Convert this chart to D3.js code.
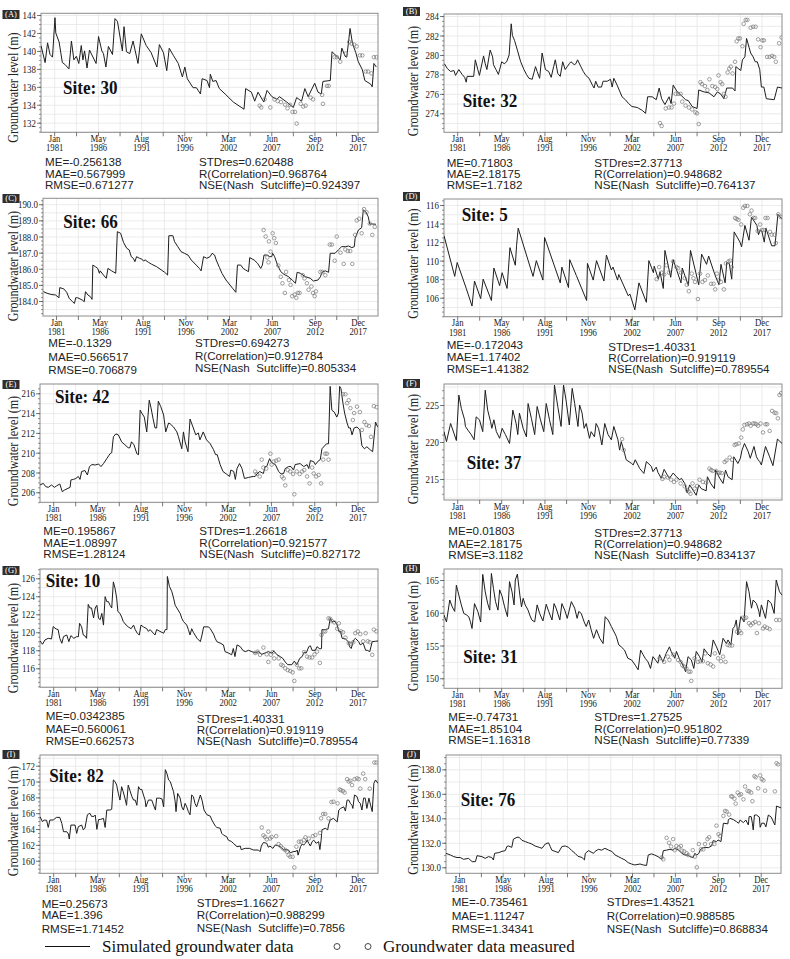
<!DOCTYPE html>
<html><head><meta charset="utf-8">
<script src="https://cdn.jsdelivr.net/npm/d3@7"></script>
<style>body{margin:0;background:#fff}</style>
</head><body><svg id="c" width="790" height="959"></svg>
<script>
// ---------- DATA ----------
const tickMonths = ["Jan","May","Aug","Nov","Mar","Jun","Sep","Dec"];
const tickYears  = [1981,1986,1991,1996,2002,2007,2012,2017];
const monthNames = ["Jan","Feb","Mar","Apr","May","Jun","Jul","Aug","Sep","Oct","Nov","Dec"];
const panelTags = ["A","B","C","D","E","F","G","H","I","J"];
const siteIds = ["30","32","66","5","42","37","10","31","82","76"];
const legendLabels = ["Simulated groundwater data","Groundwater data measured"];

const yTicksA=[132,134,136,138,140,142,144], yTicksB=[274,276,278,280,282,284], yTicksC=[184,185,186,187,188,189,190],
      yTicksD=[106,108,110,112,114,116], yTicksE=[206,208,210,212,214,216], yTicksF=[215,220,225],
      yTicksG=[116,118,120,122,124,126], yTicksH=[150,155,160,165], yTicksI=[160,162,164,166,168,170,172],
      yTicksJ=[130,132,134,136,138];

const statsA=["ME=-0.256138","MAE=0.567999","RMSE=0.671277","STDres=0.620488","R(Correlation)=0.968764","NSE(Nash  Sutcliffe)=0.924397"];
const statsB=["ME=0.71803","MAE=2.18175","RMSE=1.7182","STDres=2.37713","R(Correlation)=0.948682","NSE(Nash  Sutcliffe)=0.764137"];
const statsC=["ME=-0.1329","MAE=0.566517","RMSE=0.706879","STDres=0.694273","R(Correlation)=0.912784","NSE(Nash  Sutcliffe)=0.805334"];
const statsD=["ME=-0.172043","MAE=1.17402","RMSE=1.41382","STDres=1.40331","R(Correlation)=0.919119","NSE(Nash  Sutcliffe)=0.789554"];
const statsE=["ME=0.195867","MAE=1.08997","RMSE=1.28124","STDres=1.26618","R(Correlation)=0.921577","NSE(Nash  Sutcliffe)=0.827172"];
const statsF=["ME=0.01803","MAE=2.18175","RMSE=3.1182","STDres=2.37713","R(Correlation)=0.948682","NSE(Nash  Sutcliffe)=0.834137"];
const statsG=["ME=0.0342385","MAE=0.560061","RMSE=0.662573","STDres=1.40331","R(Correlation)=0.919119","NSE(Nash  Sutcliffe)=0.789554"];
const statsH=["ME=-0.74731","MAE=1.85104","RMSE=1.16318","STDres=1.27525","R(Correlation)=0.951802","NSE(Nash  Sutcliffe)=0.77339"];
const statsI=["ME=0.25673","MAE=1.396","RMSE=1.71452","STDres=1.16627","R(Correlation)=0.988299","NSE(Nash  Sutcliffe)=0.7856"];
const statsJ=["ME=-0.735461","MAE=1.11247","RMSE=1.34341","STDres=1.43521","R(Correlation)=0.988585","NSE(Nash  Sutcliffe)=0.868834"];

const simA=[[1979.4,140.6],[1979.9,138.7],[1980.2,140.9],[1980.5,139.6],[1980.8,139.3],[1981.1,143.7],[1981.2,142.0],[1981.6,141.0],[1982.0,138.7],[1982.3,138.5],[1982.8,138.0],[1983.1,141.1],[1983.4,139.0],[1983.7,139.4],[1984.0,138.6],[1984.3,140.6],[1984.5,139.0],[1984.7,140.0],[1985.0,138.1],[1985.3,140.1],[1986.1,138.6],[1986.4,141.6],[1986.8,140.0],[1987.0,139.7],[1987.3,138.2],[1987.6,140.5],[1988.1,139.6],[1988.4,143.6],[1988.7,143.3],[1989.3,140.0],[1989.5,142.7],[1989.8,139.9],[1990.2,139.7],[1990.6,141.1],[1991.2,138.6],[1991.6,141.9],[1992.2,140.6],[1992.8,139.8],[1993.5,138.2],[1993.8,140.7],[1994.3,139.8],[1994.7,137.8],[1995.0,140.3],[1995.5,139.5],[1996.1,138.6],[1996.6,137.1],[1996.9,138.2],[1997.2,136.9],[1997.9,135.9],[1998.3,135.9],[1998.8,135.2],[1999.0,136.9],[1999.6,136.7],[1999.9,135.9],[2000.0,137.4],[2000.3,136.6],[2000.7,136.7],[2001.1,135.8],[2001.8,135.2],[2002.8,134.3],[2004.1,133.5],[2004.3,135.8],[2005.0,135.4],[2005.4,134.4],[2005.8,135.4],[2006.5,134.3],[2006.9,135.6],[2007.5,134.9],[2008.1,134.6],[2008.4,134.9],[2009.3,134.3],[2010.1,133.7],[2010.5,134.8],[2011.1,134.4],[2011.5,135.8],[2011.9,134.9],[2012.7,136.4],[2013.1,135.4],[2013.5,135.2],[2013.7,136.6],[2014.6,136.7],[2014.8,139.9],[2015.4,139.4],[2015.8,139.0],[2016.0,140.3],[2016.4,139.4],[2016.6,139.3],[2017.0,142.5],[2017.3,140.8],[2017.7,139.8],[2018.0,138.8],[2018.5,137.9],[2018.8,136.7],[2019.5,136.3],[2019.7,136.0],[2019.9,138.6],[2020.2,138.2]];
const obsA=[[2006.0,133.9],[2006.2,133.7],[2006.6,134.6],[2007.3,133.7],[2007.8,134.6],[2008.2,134.4],[2008.6,134.3],[2009.1,134.0],[2009.4,133.6],[2009.7,134.0],[2010.0,133.2],[2010.3,133.2],[2010.5,131.9],[2011.0,134.1],[2011.3,133.8],[2011.6,133.9],[2012.2,134.8],[2012.5,134.6],[2013.6,135.1],[2013.7,134.1],[2014.2,136.1],[2014.4,136.1],[2015.1,139.3],[2015.4,139.3],[2015.8,138.8],[2016.5,139.7],[2016.9,141.0],[2017.2,140.8],[2017.5,140.7],[2017.8,140.5],[2018.2,139.5],[2018.5,139.5],[2018.9,137.7],[2019.2,137.7],[2019.6,137.5],[2019.9,139.3],[2020.2,139.3]];

const simB=[[1979.45,279.1],[1979.8,278.6],[1980.2,278.3],[1980.6,278.4],[1980.8,277.9],[1981.2,278.5],[1981.6,278.0],[1981.9,277.7],[1982.1,277.2],[1982.2,277.8],[1983.0,277.8],[1983.2,279.5],[1983.5,278.5],[1983.7,277.9],[1984.2,279.9],[1984.4,279.1],[1984.6,278.5],[1985.0,280.5],[1985.3,279.8],[1985.4,279.0],[1985.7,278.5],[1986.0,278.0],[1986.4,279.3],[1986.7,279.1],[1987.0,279.3],[1987.3,280.0],[1987.55,283.2],[1987.7,282.0],[1987.95,281.5],[1988.3,280.5],[1988.7,279.3],[1989.1,278.5],[1989.4,278.0],[1989.7,277.6],[1990.1,277.5],[1990.5,278.8],[1990.7,278.3],[1991.0,277.6],[1991.3,280.2],[1991.7,278.5],[1992.1,278.3],[1992.4,277.7],[1992.7,278.8],[1992.9,279.5],[1993.2,278.1],[1993.5,277.8],[1993.8,279.3],[1994.1,278.5],[1994.35,278.8],[1994.6,279.1],[1994.8,279.3],[1995.2,279.0],[1995.4,279.1],[1995.6,279.5],[1996.0,278.8],[1996.3,278.3],[1996.6,277.9],[1997.0,277.6],[1997.4,276.9],[1997.6,276.6],[1997.8,277.3],[1998.1,276.7],[1998.5,276.7],[1998.7,277.3],[1999.2,277.3],[1999.6,277.5],[1999.8,276.7],[2000.0,277.6],[2000.4,276.9],[2000.75,276.2],[2001.0,275.7],[2001.4,275.4],[2001.8,275.0],[2002.2,274.7],[2002.85,274.6],[2003.45,274.3],[2003.85,274.0],[2004.1,275.7],[2004.65,275.7],[2005.15,275.4],[2005.5,276.6],[2005.8,275.5],[2006.2,274.9],[2006.7,275.7],[2006.95,275.0],[2007.2,276.9],[2007.7,276.2],[2008.1,275.9],[2008.7,275.4],[2009.05,275.3],[2009.5,274.7],[2010.1,274.5],[2010.3,276.4],[2010.95,276.2],[2011.55,276.1],[2012.15,275.7],[2012.55,276.2],[2012.95,276.0],[2013.35,275.5],[2013.7,276.6],[2014.4,276.6],[2014.7,276.3],[2014.8,278.8],[2015.4,278.4],[2015.6,279.5],[2015.9,279.8],[2016.1,281.7],[2016.4,280.8],[2016.6,280.2],[2016.9,279.8],[2017.15,279.3],[2017.4,279.3],[2017.7,278.5],[2017.9,276.7],[2018.2,276.7],[2018.5,275.5],[2019.45,275.4],[2019.85,276.7],[2020.4,276.6]];
const obsB=[[2005.6,273.0],[2005.8,272.7],[2006.3,274.5],[2006.7,274.6],[2007.0,274.6],[2007.3,275.0],[2007.5,276.0],[2007.8,276.0],[2008.1,276.0],[2008.3,275.2],[2008.7,274.8],[2009.1,274.6],[2009.5,274.4],[2009.9,274.1],[2010.1,274.0],[2010.3,272.9],[2010.5,277.2],[2010.7,277.0],[2011.05,276.8],[2011.35,276.4],[2011.6,277.5],[2011.95,276.8],[2012.3,276.7],[2012.55,276.5],[2012.7,277.9],[2012.95,277.2],[2013.15,277.0],[2013.35,276.0],[2013.55,275.7],[2013.8,278.2],[2014.0,278.6],[2014.2,278.8],[2014.4,278.1],[2014.7,279.3],[2014.9,281.4],[2015.1,281.7],[2015.3,281.7],[2015.6,280.9],[2015.75,283.2],[2016.0,283.6],[2016.2,283.6],[2016.6,282.8],[2016.9,282.9],[2017.2,282.9],[2017.5,281.6],[2017.8,280.8],[2018.0,281.5],[2018.2,281.5],[2018.6,279.8],[2018.9,279.8],[2019.2,279.9],[2019.45,279.8],[2019.65,279.3],[2020.05,281.2],[2020.35,281.8]];

const simC=[[1979.45,184.58],[1979.9,184.48],[1980.35,184.41],[1980.95,184.37],[1981.35,184.2],[1981.45,184.83],[1981.95,184.75],[1982.3,184.54],[1982.6,184.17],[1983.0,183.96],[1983.25,183.85],[1983.4,184.2],[1983.65,184.2],[1984.2,184.06],[1984.45,183.96],[1984.6,184.58],[1984.9,184.37],[1985.2,184.27],[1985.4,184.1],[1985.5,186.23],[1985.8,186.13],[1986.1,186.02],[1986.3,185.72],[1986.4,185.87],[1986.8,185.61],[1987.15,185.41],[1987.35,186.02],[1987.8,185.87],[1988.3,185.72],[1988.5,188.3],[1988.9,188.2],[1989.25,187.64],[1989.65,187.27],[1989.95,187.17],[1990.2,186.75],[1990.45,186.65],[1990.65,186.44],[1990.85,186.75],[1991.2,186.65],[1991.5,186.6],[1991.7,186.48],[1991.9,186.55],[1992.3,186.4],[1992.7,186.28],[1993.3,186.13],[1993.9,185.92],[1994.3,185.78],[1994.65,185.61],[1994.8,188.05],[1995.3,188.05],[1995.5,187.68],[1995.9,187.37],[1996.3,187.06],[1996.7,186.96],[1997.15,186.85],[1997.55,186.54],[1998.15,186.23],[1998.55,186.02],[1998.75,185.87],[1999.05,186.75],[1999.45,186.65],[1999.85,186.75],[2000.1,186.96],[2000.4,186.85],[2000.6,186.54],[2001.0,186.07],[2001.3,185.72],[2001.8,185.3],[2002.6,184.79],[2003.0,184.54],[2003.2,186.23],[2003.6,186.23],[2003.9,186.02],[2004.2,185.92],[2004.55,185.82],[2004.7,186.69],[2005.25,186.54],[2005.65,186.34],[2006.05,186.02],[2006.25,186.23],[2006.45,186.85],[2006.85,186.85],[2007.15,186.75],[2007.4,186.75],[2007.5,186.96],[2007.75,186.75],[2008.1,186.23],[2008.5,185.82],[2008.9,185.65],[2009.45,185.51],[2009.9,185.3],[2010.3,185.1],[2010.5,185.78],[2010.9,185.72],[2011.5,185.51],[2012.1,185.41],[2012.5,185.24],[2013.05,185.3],[2013.35,185.5],[2013.55,185.78],[2013.95,185.87],[2014.35,185.78],[2014.55,186.96],[2015.15,186.96],[2015.55,187.17],[2015.95,187.37],[2016.4,187.37],[2016.8,187.41],[2017.2,187.31],[2017.5,187.37],[2017.6,187.89],[2018.0,188.4],[2018.4,188.55],[2018.6,189.65],[2018.9,189.54],[2019.2,189.23],[2019.4,188.76],[2019.6,188.78],[2020.15,188.76]];
const obsC=[[2006.4,188.4],[2006.65,188.0],[2006.85,186.7],[2007.0,186.4],[2007.05,187.7],[2007.25,187.06],[2007.5,188.2],[2007.7,187.9],[2007.9,187.6],[2008.2,186.2],[2008.5,185.5],[2008.7,185.1],[2009.0,184.5],[2009.15,185.8],[2009.5,185.3],[2009.7,185.0],[2009.9,184.3],[2010.2,184.4],[2010.4,184.2],[2010.6,184.5],[2010.8,184.5],[2011.2,185.6],[2011.4,185.4],[2011.7,185.1],[2011.9,184.7],[2012.25,184.9],[2012.45,184.5],[2012.65,184.3],[2012.8,184.6],[2013.35,185.8],[2013.6,185.8],[2013.95,185.6],[2014.5,187.5],[2014.75,187.5],[2015.1,186.5],[2015.35,188.0],[2015.8,187.0],[2016.2,186.3],[2016.4,187.2],[2016.7,187.1],[2017.0,187.1],[2017.25,186.3],[2017.6,188.1],[2017.8,189.0],[2018.1,189.1],[2018.4,188.2],[2018.7,189.7],[2019.0,189.5],[2019.4,188.8],[2019.7,188.1],[2020.0,188.6]];

const simD=[[1979.4,112.7],[1980.7,108.3],[1981.0,109.8],[1982.1,107.0],[1982.8,105.1],[1983.1,107.8],[1983.85,105.9],[1984.15,108.0],[1985.15,105.7],[1985.45,109.2],[1986.15,107.3],[1986.45,108.7],[1987.05,107.0],[1987.4,111.4],[1988.05,109.5],[1988.2,111.6],[1988.4,113.5],[1990.2,108.3],[1990.6,110.0],[1991.4,107.9],[1991.6,112.5],[1993.5,107.6],[1993.7,109.3],[1994.5,107.1],[1994.65,110.1],[1995.45,108.4],[1996.7,105.7],[1996.8,109.7],[1997.5,107.9],[1997.9,110.0],[1998.8,107.8],[1999.1,110.6],[1999.7,109.0],[1999.9,109.3],[2000.45,107.9],[2000.6,108.5],[2001.75,106.2],[2001.95,106.4],[2002.55,104.7],[2003.05,107.6],[2003.95,105.5],[2004.25,110.0],[2004.8,108.7],[2004.9,109.4],[2005.4,108.0],[2005.6,108.8],[2006.0,107.0],[2006.2,111.1],[2006.9,108.2],[2007.2,110.1],[2008.15,107.6],[2008.3,109.2],[2009.05,107.3],[2009.3,111.1],[2010.3,107.4],[2010.65,110.7],[2011.25,109.6],[2011.5,110.5],[2012.25,108.5],[2012.75,107.4],[2013.0,109.6],[2013.5,107.6],[2013.7,109.8],[2014.0,109.7],[2014.3,108.0],[2014.6,113.1],[2015.3,112.0],[2015.5,111.5],[2015.9,113.8],[2016.4,112.2],[2016.7,114.7],[2017.35,113.8],[2017.55,112.8],[2017.75,113.3],[2017.95,113.2],[2018.25,112.0],[2018.45,113.5],[2019.15,111.6],[2019.55,111.6],[2019.9,115.0],[2020.4,114.5]];
const obsD=[[2005.2,108.0],[2005.5,109.3],[2005.8,108.7],[2006.1,108.5],[2006.4,109.5],[2006.7,108.7],[2007.2,109.9],[2007.6,109.3],[2007.8,109.2],[2008.15,108.7],[2008.6,108.1],[2008.85,107.4],[2009.1,106.7],[2009.45,108.6],[2009.65,108.1],[2009.85,107.7],[2010.2,105.85],[2010.45,108.6],[2010.75,107.7],[2011.05,107.9],[2011.4,108.4],[2011.8,107.5],[2012.1,107.5],[2012.3,106.9],[2012.5,108.6],[2012.75,107.9],[2013.0,107.7],[2013.35,106.9],[2013.6,109.7],[2013.9,109.9],[2014.1,110.0],[2014.3,109.3],[2014.7,114.6],[2014.9,114.5],[2015.1,114.4],[2015.45,113.9],[2015.7,115.7],[2015.9,115.9],[2016.2,115.9],[2016.5,115.0],[2016.7,115.4],[2016.95,114.6],[2017.15,114.6],[2017.45,113.2],[2017.75,113.9],[2017.95,113.3],[2018.15,113.3],[2018.4,114.6],[2018.65,114.6],[2018.95,113.1],[2019.15,112.8],[2019.5,112.8],[2019.65,111.9],[2019.95,115.0],[2020.25,114.7]];

const simE=[[1979.4,206.74],[1979.8,206.9],[1980.1,206.57],[1980.4,206.5],[1980.8,206.74],[1981.15,206.5],[1981.4,206.64],[1981.8,206.84],[1982.1,206.07],[1982.4,206.24],[1982.8,206.4],[1983.05,206.5],[1983.15,207.25],[1983.45,207.3],[1983.75,207.4],[1984.05,207.6],[1984.25,207.3],[1984.45,208.1],[1984.85,208.2],[1985.15,207.75],[1985.4,208.6],[1985.7,208.8],[1986.1,208.76],[1986.5,208.86],[1986.8,208.6],[1987.1,208.9],[1987.5,209.4],[1987.9,209.9],[1988.1,210.0],[1988.3,211.6],[1988.6,211.9],[1988.9,211.8],[1989.3,211.1],[1989.7,210.8],[1990.1,210.5],[1990.3,210.5],[1990.5,211.1],[1990.8,210.8],[1991.15,209.9],[1991.35,209.8],[1991.55,214.3],[1991.75,214.0],[1992.05,213.6],[1992.35,212.1],[1992.65,215.3],[1992.85,214.6],[1993.1,213.5],[1993.35,212.5],[1993.55,212.5],[1993.75,215.2],[1994.05,214.65],[1994.4,213.8],[1994.65,212.1],[1995.0,213.0],[1995.2,212.9],[1995.6,212.6],[1996.0,212.1],[1996.2,211.6],[1996.6,210.4],[1996.8,212.1],[1997.0,211.1],[1997.35,210.1],[1997.6,213.4],[1997.95,212.6],[1998.3,211.8],[1998.6,212.0],[1998.8,211.3],[1999.2,212.1],[1999.6,211.3],[2000.05,210.9],[2000.45,210.3],[2000.7,209.8],[2000.9,209.8],[2001.25,208.8],[2001.6,208.1],[2002.0,207.85],[2002.4,207.6],[2002.55,208.25],[2002.9,208.1],[2003.1,207.3],[2003.3,208.4],[2003.6,208.9],[2003.9,208.4],[2004.2,207.4],[2004.7,207.5],[2005.25,207.6],[2005.5,207.6],[2005.7,207.85],[2006.05,208.1],[2006.5,207.9],[2006.7,208.6],[2006.9,208.6],[2007.25,209.4],[2007.5,209.0],[2007.95,208.8],[2008.35,208.1],[2008.65,207.85],[2008.95,207.9],[2009.15,208.4],[2009.55,208.6],[2009.85,208.6],[2010.15,208.25],[2010.35,208.8],[2010.95,208.9],[2011.4,208.6],[2011.8,208.8],[2012.0,208.4],[2012.2,209.2],[2012.6,209.1],[2012.8,208.8],[2013.2,209.2],[2013.4,209.3],[2013.6,210.4],[2014.15,210.9],[2014.4,210.9],[2014.6,216.7],[2014.8,214.3],[2015.1,214.1],[2015.4,213.6],[2015.6,214.0],[2015.75,216.7],[2015.9,216.5],[2016.15,215.0],[2016.35,214.0],[2016.65,213.0],[2016.85,212.5],[2017.05,212.5],[2017.25,211.8],[2017.5,212.5],[2017.85,212.6],[2018.2,212.3],[2018.45,210.7],[2018.75,210.4],[2019.05,210.6],[2019.45,210.3],[2019.75,210.1],[2020.1,213.1],[2020.3,212.7],[2020.4,212.6]];
const obsE=[[2005.5,208.1],[2005.7,207.85],[2006.05,207.6],[2006.3,209.3],[2006.5,208.5],[2006.85,208.4],[2007.35,209.9],[2007.5,208.8],[2007.75,209.1],[2008.05,209.2],[2008.35,209.3],[2008.75,207.6],[2008.95,207.4],[2009.15,206.7],[2009.45,208.25],[2009.75,208.1],[2010.1,207.85],[2010.25,205.8],[2010.55,208.1],[2010.9,207.85],[2011.2,208.1],[2011.45,208.25],[2011.8,207.6],[2012.1,206.9],[2012.4,208.5],[2012.6,207.9],[2012.9,207.6],[2013.2,207.75],[2013.5,206.9],[2013.75,209.3],[2014.0,209.9],[2014.2,209.9],[2014.4,209.3],[2016.15,215.9],[2016.45,215.9],[2016.65,215.0],[2016.85,215.3],[2017.05,214.5],[2017.35,213.3],[2017.5,214.0],[2017.85,214.65],[2018.2,214.1],[2018.45,212.3],[2018.75,213.1],[2019.0,212.8],[2019.3,212.7],[2019.55,211.6],[2019.9,214.7],[2020.25,214.6]];

const simF=[[1979.4,221.4],[1979.7,220.05],[1980.2,222.5],[1980.6,221.2],[1980.9,220.2],[1981.2,226.35],[1981.5,224.55],[1981.9,223.0],[1982.0,222.1],[1982.3,221.6],[1982.7,221.0],[1983.05,220.3],[1983.3,223.4],[1983.7,223.0],[1984.1,221.4],[1984.4,227.0],[1984.7,224.3],[1985.05,222.75],[1985.2,221.85],[1985.45,223.0],[1985.75,221.4],[1986.15,220.5],[1986.45,221.85],[1986.85,221.0],[1987.35,219.8],[1987.75,224.3],[1988.15,222.5],[1988.35,221.0],[1988.55,223.9],[1989.0,221.85],[1989.4,220.7],[1989.6,225.2],[1990.0,223.2],[1990.4,221.0],[1990.7,224.8],[1991.1,223.0],[1991.5,221.4],[1991.8,225.2],[1992.2,223.0],[1992.6,221.0],[1992.8,227.7],[1993.2,224.8],[1993.6,222.1],[1993.9,227.7],[1994.2,225.7],[1994.6,222.3],[1994.95,227.25],[1995.25,225.2],[1995.65,222.1],[1995.85,225.0],[1996.15,223.9],[1996.4,221.85],[1996.65,222.5],[1997.05,220.5],[1997.25,221.4],[1997.65,220.7],[1997.85,222.5],[1998.15,221.85],[1998.55,219.6],[1998.9,222.5],[1999.3,221.0],[1999.7,220.3],[2000.0,222.1],[2000.5,220.3],[2000.7,218.9],[2000.9,220.05],[2001.3,218.5],[2001.5,217.6],[2002.15,217.1],[2002.35,216.9],[2002.6,217.6],[2003.15,216.4],[2003.65,215.75],[2003.95,217.35],[2004.55,216.7],[2004.75,216.0],[2005.15,216.6],[2005.35,215.9],[2005.75,215.1],[2006.1,216.3],[2006.55,215.4],[2006.75,215.1],[2007.2,215.8],[2007.6,215.3],[2008.0,214.9],[2008.2,215.1],[2008.6,214.4],[2008.9,213.1],[2009.2,214.2],[2009.6,213.5],[2010.0,212.8],[2010.3,214.2],[2010.6,213.7],[2011.2,213.4],[2011.35,215.3],[2011.75,214.4],[2012.2,213.7],[2012.35,216.2],[2012.85,215.1],[2013.25,214.4],[2013.55,216.2],[2013.85,215.3],[2014.35,214.9],[2014.55,218.0],[2015.05,217.1],[2015.35,217.8],[2015.55,218.9],[2015.85,219.8],[2016.3,218.7],[2016.55,217.8],[2017.0,219.4],[2017.3,218.0],[2017.5,217.6],[2017.7,217.35],[2017.9,216.9],[2018.4,219.4],[2018.9,218.0],[2019.3,216.8],[2019.85,220.4],[2020.4,219.8]];
const obsF=[[2001.0,220.4],[2001.2,218.9],[2005.9,215.0],[2006.1,215.3],[2006.55,215.2],[2006.95,214.9],[2007.3,214.6],[2007.6,214.9],[2008.1,214.4],[2008.6,214.0],[2008.9,213.5],[2009.1,213.3],[2009.3,213.0],[2009.55,214.4],[2009.8,213.7],[2010.1,214.05],[2010.4,214.9],[2010.8,214.6],[2011.2,214.5],[2011.6,216.4],[2011.8,216.2],[2012.0,216.1],[2012.4,216.1],[2012.65,215.8],[2012.85,215.85],[2013.1,215.8],[2013.45,217.3],[2013.65,217.5],[2014.05,217.9],[2014.35,217.6],[2014.65,219.6],[2014.85,219.7],[2015.15,219.8],[2015.45,220.6],[2015.65,221.7],[2015.85,222.3],[2016.15,222.4],[2016.4,222.5],[2016.6,222.2],[2016.9,222.5],[2017.1,222.5],[2017.3,222.4],[2017.5,222.2],[2017.8,222.5],[2018.1,221.3],[2018.4,222.4],[2018.6,222.4],[2018.9,221.5],[2019.2,224.2],[2019.5,223.95],[2019.7,223.9],[2019.9,223.2],[2020.1,226.35],[2020.3,226.6]];

const simG=[[1979.4,119.04],[1979.7,118.67],[1980.0,119.15],[1980.4,119.33],[1980.8,119.26],[1981.0,120.63],[1981.35,120.37],[1981.6,120.3],[1981.8,119.33],[1982.05,118.78],[1982.25,119.52],[1982.65,119.7],[1982.9,118.96],[1983.15,119.63],[1983.5,119.33],[1983.85,119.52],[1984.05,119.5],[1984.2,121.0],[1984.45,120.6],[1984.65,119.7],[1984.85,119.6],[1985.05,119.33],[1985.25,123.1],[1985.45,122.7],[1985.65,122.7],[1985.9,121.6],[1986.1,122.7],[1986.3,123.0],[1986.5,121.55],[1986.7,121.4],[1986.9,122.1],[1987.1,120.8],[1987.3,123.96],[1987.5,123.4],[1987.7,123.4],[1987.9,123.0],[1988.1,122.7],[1988.3,125.6],[1988.5,124.9],[1988.7,123.8],[1988.85,122.3],[1989.1,122.1],[1989.3,121.7],[1989.5,121.2],[1989.85,120.8],[1990.1,120.6],[1990.45,120.4],[1990.75,120.8],[1990.95,120.3],[1991.2,119.9],[1991.45,119.7],[1991.65,120.8],[1991.95,120.6],[1992.35,120.4],[1992.55,120.1],[1992.75,120.3],[1993.15,119.9],[1993.35,119.7],[1993.55,120.3],[1993.95,120.1],[1994.4,119.9],[1994.6,120.3],[1994.8,120.3],[1994.85,126.2],[1995.1,125.1],[1995.4,124.5],[1995.6,123.8],[1995.8,123.0],[1996.0,122.7],[1996.4,122.1],[1996.6,121.55],[1996.8,121.2],[1997.2,120.8],[1997.4,120.3],[1997.6,119.7],[1997.8,120.4],[1998.0,120.0],[1998.45,119.33],[1998.85,118.96],[1999.05,119.7],[1999.25,120.6],[1999.85,120.6],[2000.05,120.4],[2000.45,119.8],[2000.65,119.33],[2000.85,118.96],[2001.25,118.8],[2001.65,118.6],[2001.85,117.85],[2002.25,117.7],[2002.65,117.5],[2002.85,118.2],[2003.05,117.3],[2003.3,118.6],[2003.7,118.4],[2004.0,118.0],[2004.3,117.85],[2004.7,118.0],[2005.1,117.85],[2005.5,117.7],[2005.9,117.85],[2006.3,117.55],[2006.7,117.7],[2007.1,117.85],[2007.5,117.7],[2007.8,117.9],[2008.15,117.5],[2008.55,117.3],[2008.85,117.1],[2009.15,116.7],[2009.45,116.4],[2009.95,116.4],[2010.25,116.8],[2010.55,116.4],[2010.9,117.1],[2011.2,117.3],[2011.45,117.8],[2011.7,117.7],[2012.0,118.4],[2012.2,118.5],[2012.4,118.0],[2012.8,118.0],[2013.0,118.4],[2013.35,118.15],[2013.55,118.2],[2013.6,120.3],[2014.0,120.3],[2014.4,120.4],[2014.6,121.55],[2014.8,121.2],[2015.2,121.2],[2015.45,120.8],[2015.65,120.1],[2015.85,120.1],[2016.05,119.33],[2016.45,119.26],[2016.85,118.9],[2016.95,118.4],[2017.15,118.2],[2017.45,119.15],[2017.65,119.33],[2018.05,118.96],[2018.25,118.6],[2018.6,118.8],[2018.9,118.0],[2019.1,118.0],[2019.4,117.85],[2019.7,118.96],[2020.1,119.0],[2020.4,119.04]];
const obsG=[[2005.5,117.7],[2005.8,117.85],[2006.1,117.5],[2006.5,118.3],[2006.9,117.55],[2007.1,116.7],[2007.4,117.5],[2007.65,117.8],[2007.8,117.1],[2008.35,117.1],[2008.65,116.4],[2008.85,116.3],[2009.15,116.0],[2009.45,115.8],[2009.75,115.7],[2010.05,115.55],[2010.25,114.6],[2010.55,116.4],[2010.85,116.0],[2011.1,116.0],[2011.45,117.8],[2011.8,117.3],[2012.1,117.2],[2012.4,117.2],[2012.7,117.55],[2013.0,117.85],[2013.35,116.6],[2013.55,119.7],[2013.8,120.1],[2014.0,120.1],[2014.4,121.55],[2014.6,121.5],[2014.8,121.25],[2015.1,121.1],[2015.45,120.4],[2015.65,121.0],[2015.9,120.1],[2016.15,120.0],[2016.45,119.4],[2016.85,118.8],[2017.05,118.7],[2017.4,118.9],[2017.65,119.9],[2017.95,120.1],[2018.25,119.8],[2018.6,119.0],[2018.9,119.9],[2019.15,119.0],[2019.4,118.9],[2019.7,117.5],[2019.9,120.3],[2020.2,120.1]];

const simH=[[1979.4,159.66],[1979.7,158.6],[1980.1,161.95],[1980.4,160.9],[1980.7,160.2],[1980.9,164.2],[1981.1,163.2],[1981.5,161.2],[1981.8,159.9],[1982.1,159.7],[1982.4,159.4],[1982.6,158.65],[1982.8,157.6],[1983.1,161.4],[1983.5,160.2],[1983.85,158.6],[1984.1,165.86],[1984.4,163.2],[1984.7,161.4],[1984.95,160.4],[1985.15,166.0],[1985.4,163.7],[1985.65,161.7],[1985.95,160.4],[1986.15,163.5],[1986.45,162.5],[1986.75,160.9],[1987.1,159.4],[1987.35,164.75],[1987.65,163.2],[1987.9,161.2],[1988.05,165.0],[1988.3,165.9],[1988.6,162.7],[1988.8,160.9],[1989.0,162.2],[1989.25,161.2],[1989.6,160.4],[1989.8,159.66],[1990.05,158.9],[1990.4,158.6],[1990.7,161.2],[1991.0,159.9],[1991.4,158.75],[1991.8,161.3],[1992.1,160.2],[1992.5,158.9],[1992.75,161.4],[1993.0,160.7],[1993.45,158.9],[1993.7,161.4],[1994.05,160.4],[1994.35,159.15],[1994.85,161.7],[1995.25,160.7],[1995.55,159.15],[1995.75,160.2],[1996.05,159.9],[1996.4,158.6],[1996.65,157.9],[1996.95,158.9],[1997.25,157.4],[1997.55,156.1],[1997.9,157.4],[1998.3,156.1],[1998.7,155.3],[1998.95,159.4],[1999.3,158.9],[1999.7,157.9],[2000.1,156.9],[2000.3,156.4],[2000.6,155.1],[2000.9,154.8],[2001.3,154.3],[2001.7,153.05],[2002.15,152.8],[2002.6,152.0],[2002.95,151.3],[2003.25,154.3],[2003.55,153.6],[2003.8,153.05],[2004.15,152.5],[2004.45,151.5],[2004.75,153.3],[2005.35,152.3],[2005.55,153.6],[2005.95,152.5],[2006.35,153.8],[2006.75,154.8],[2006.95,154.1],[2007.4,153.05],[2007.6,154.1],[2008.0,152.8],[2008.4,152.0],[2008.7,151.0],[2009.0,153.3],[2009.4,152.8],[2009.7,151.5],[2010.0,154.1],[2010.4,153.3],[2010.7,152.5],[2010.95,154.5],[2011.35,153.8],[2011.75,153.3],[2012.05,155.85],[2012.45,154.8],[2012.85,153.6],[2013.25,156.1],[2013.65,155.3],[2013.85,155.85],[2014.2,155.1],[2014.45,157.6],[2014.65,157.9],[2014.85,158.9],[2015.05,156.6],[2015.4,159.4],[2015.8,158.6],[2016.1,164.75],[2016.4,163.2],[2016.7,160.7],[2016.9,161.95],[2017.3,161.4],[2017.6,160.2],[2017.7,159.4],[2017.9,161.2],[2018.1,160.4],[2018.4,159.15],[2018.7,161.95],[2019.1,161.4],[2019.45,159.9],[2019.7,165.0],[2020.1,163.2],[2020.4,162.7]];
const obsH=[[2005.55,153.05],[2006.1,152.5],[2006.55,153.3],[2006.75,152.8],[2007.2,153.6],[2007.8,152.8],[2008.1,152.5],[2008.3,152.0],[2008.5,151.8],[2008.8,151.5],[2009.1,151.0],[2009.3,151.0],[2009.4,149.6],[2009.8,153.05],[2010.2,152.5],[2010.5,152.6],[2010.8,152.6],[2011.1,153.8],[2011.4,152.3],[2011.75,152.1],[2012.05,151.8],[2012.25,153.8],[2012.65,153.05],[2013.0,152.6],[2013.25,153.3],[2013.55,152.5],[2013.8,155.1],[2014.05,155.0],[2014.35,155.0],[2014.95,157.1],[2015.25,157.2],[2015.45,156.9],[2015.65,159.25],[2015.85,159.15],[2016.05,159.25],[2016.4,158.4],[2016.6,158.1],[2016.9,158.4],[2017.15,158.6],[2017.35,156.9],[2017.6,158.4],[2018.1,157.6],[2018.3,157.9],[2018.6,157.7],[2018.9,157.5],[2019.7,158.9],[2020.1,158.9]];

const simI=[[1979.4,165.56],[1979.7,164.93],[1979.9,165.14],[1980.2,165.1],[1980.4,164.2],[1980.6,165.14],[1981.0,165.14],[1981.4,165.47],[1981.8,165.47],[1982.05,164.7],[1982.25,163.66],[1982.65,163.66],[1982.85,163.37],[1982.95,162.74],[1983.15,164.5],[1983.65,164.5],[1983.85,163.45],[1984.05,164.3],[1984.45,164.5],[1984.65,163.9],[1984.85,164.1],[1985.15,165.8],[1985.45,166.0],[1985.65,165.6],[1985.95,165.6],[1986.1,165.77],[1986.3,163.96],[1986.5,165.2],[1986.7,165.2],[1987.1,165.35],[1987.3,164.2],[1987.5,166.4],[1987.9,166.4],[1988.1,166.5],[1988.3,170.2],[1988.5,170.0],[1988.7,169.55],[1988.9,168.5],[1989.1,167.66],[1989.3,169.35],[1989.5,168.7],[1989.7,167.9],[1989.9,167.0],[1990.1,169.55],[1990.3,168.9],[1990.55,168.1],[1990.75,167.66],[1990.95,167.66],[1991.15,167.0],[1991.35,169.35],[1991.55,169.0],[1991.75,169.0],[1991.95,168.3],[1992.15,167.66],[1992.25,166.8],[1992.55,167.66],[1992.95,167.66],[1993.25,166.8],[1993.4,166.4],[1993.55,167.9],[1993.9,167.9],[1994.2,167.8],[1994.4,166.8],[1994.6,171.5],[1994.8,171.0],[1995.0,170.2],[1995.2,170.0],[1995.4,169.35],[1995.6,168.7],[1995.8,167.45],[1995.9,166.2],[1996.1,168.5],[1996.4,167.9],[1996.6,166.8],[1996.8,166.4],[1997.0,167.24],[1997.2,166.8],[1997.4,166.2],[1997.6,165.8],[1997.8,168.3],[1998.0,168.1],[1998.2,167.24],[1998.4,166.8],[1998.85,168.3],[1999.05,167.66],[1999.3,166.4],[1999.65,165.8],[2000.05,165.64],[2000.25,165.14],[2000.65,164.4],[2000.85,164.2],[2001.25,164.1],[2001.45,163.45],[2001.65,163.24],[2002.05,163.03],[2002.25,162.6],[2002.65,162.4],[2002.85,162.2],[2003.3,161.77],[2003.7,161.85],[2003.8,161.4],[2004.3,161.56],[2004.8,161.56],[2005.3,161.35],[2005.9,161.35],[2006.1,161.14],[2006.25,161.85],[2006.5,162.3],[2006.9,162.2],[2007.1,161.7],[2007.3,161.85],[2007.65,161.56],[2007.95,162.0],[2008.35,161.85],[2008.65,161.7],[2008.95,161.35],[2009.3,161.4],[2009.55,161.35],[2009.75,161.0],[2010.1,161.14],[2010.5,161.2],[2010.6,161.35],[2010.7,160.7],[2011.0,161.77],[2011.2,162.1],[2011.4,162.0],[2011.6,162.2],[2011.8,162.6],[2012.0,162.2],[2012.2,161.85],[2012.4,162.4],[2012.6,162.6],[2012.9,162.2],[2013.2,162.4],[2013.35,161.4],[2013.5,162.6],[2013.6,163.9],[2014.0,164.1],[2014.3,163.9],[2014.4,164.5],[2014.6,165.14],[2015.0,165.35],[2015.45,164.9],[2015.65,166.4],[2015.85,166.6],[2016.25,166.8],[2016.45,166.27],[2016.65,167.66],[2016.85,167.66],[2017.05,167.24],[2017.25,167.0],[2017.35,166.6],[2017.55,168.3],[2017.85,168.1],[2018.05,167.45],[2018.25,167.24],[2018.45,166.4],[2018.65,167.9],[2018.85,167.9],[2019.05,166.6],[2019.3,167.9],[2019.5,167.0],[2019.7,166.2],[2019.9,169.77],[2020.1,170.2],[2020.4,169.77]];
const obsI=[[2006.3,164.2],[2006.5,163.2],[2006.7,163.0],[2006.9,162.7],[2007.1,163.66],[2007.3,162.8],[2007.5,163.0],[2008.05,163.1],[2008.35,162.1],[2008.6,161.85],[2008.85,161.56],[2009.15,161.35],[2009.35,161.14],[2009.55,160.7],[2009.75,160.5],[2010.05,160.5],[2010.25,159.15],[2010.5,161.77],[2010.8,162.4],[2011.05,162.4],[2011.4,162.6],[2011.6,162.95],[2012.0,162.8],[2012.5,163.1],[2012.8,163.24],[2013.35,163.5],[2013.5,165.35],[2013.75,165.9],[2014.0,165.9],[2014.4,165.35],[2014.75,167.4],[2015.0,167.45],[2015.5,167.24],[2015.75,169.0],[2015.9,168.9],[2016.15,168.8],[2016.35,168.6],[2016.65,170.3],[2016.85,170.0],[2017.05,170.1],[2017.25,169.55],[2017.55,170.3],[2017.85,170.4],[2018.05,170.3],[2018.25,169.1],[2018.6,171.0],[2018.85,170.3],[2019.4,169.1],[2019.95,172.4],[2020.2,172.4]];

const simJ=[[1979.4,131.14],[1979.95,131.0],[1980.35,130.87],[1980.75,130.8],[1981.15,130.8],[1981.55,130.65],[1982.15,130.73],[1982.6,130.46],[1983.0,130.46],[1983.2,130.95],[1983.8,130.87],[1984.2,130.73],[1984.6,130.87],[1985.0,130.8],[1985.2,130.6],[1985.35,131.14],[1985.85,131.2],[1986.25,131.3],[1986.65,131.36],[1986.85,131.7],[1987.05,131.74],[1987.45,131.63],[1987.65,132.3],[1988.1,132.45],[1988.35,132.45],[1988.7,132.2],[1989.1,132.1],[1989.5,132.0],[1989.9,131.9],[1990.3,131.74],[1990.8,131.63],[1991.15,131.55],[1991.55,131.9],[1991.95,132.0],[1992.15,131.7],[1992.35,131.4],[1992.75,131.3],[1993.15,131.2],[1993.6,131.7],[1994.0,131.74],[1994.4,131.63],[1994.8,131.36],[1995.2,131.14],[1995.55,130.9],[1996.05,130.8],[1996.35,130.6],[1996.45,131.14],[1996.85,131.36],[1997.45,131.14],[1997.65,131.3],[1998.05,131.47],[1998.45,131.4],[1998.85,131.55],[1999.3,131.4],[1999.7,131.3],[2000.1,131.0],[2000.5,130.87],[2000.9,130.73],[2001.3,130.6],[2001.7,130.38],[2002.1,130.27],[2002.5,130.19],[2003.15,130.27],[2003.55,130.19],[2003.95,130.15],[2004.15,131.0],[2004.55,131.1],[2004.95,131.0],[2005.35,130.87],[2005.8,130.65],[2006.0,131.36],[2006.4,131.4],[2006.8,131.47],[2007.2,131.4],[2007.4,131.55],[2007.85,131.4],[2008.05,131.3],[2008.25,131.14],[2008.65,131.0],[2009.05,131.0],[2009.25,130.87],[2009.65,130.8],[2009.85,131.14],[2010.1,131.0],[2010.35,131.14],[2010.5,131.4],[2010.7,131.55],[2011.1,131.63],[2011.5,131.6],[2011.9,131.74],[2012.1,132.18],[2012.5,132.1],[2012.7,132.23],[2013.05,132.1],[2013.35,133.6],[2013.9,133.55],[2013.95,133.86],[2014.15,134.0],[2014.55,133.9],[2014.95,133.73],[2015.2,133.6],[2015.4,133.86],[2015.8,133.65],[2016.1,133.86],[2016.4,133.46],[2016.5,134.14],[2016.75,134.14],[2016.9,133.6],[2017.0,133.05],[2017.15,134.27],[2017.4,134.27],[2017.75,134.1],[2017.85,133.27],[2018.05,133.6],[2018.35,133.6],[2018.55,133.3],[2018.85,134.27],[2019.2,134.1],[2019.65,133.46],[2019.85,135.0],[2020.4,134.85]];
const obsJ=[[2005.8,130.8],[2006.0,130.65],[2006.4,132.4],[2006.7,132.0],[2006.95,131.7],[2007.2,132.3],[2007.4,131.4],[2007.6,131.74],[2007.9,131.63],[2008.15,131.74],[2008.3,131.36],[2008.55,131.3],[2008.85,131.14],[2009.05,131.0],[2009.6,131.4],[2009.85,130.87],[2010.1,130.0],[2010.35,131.9],[2010.6,131.47],[2010.9,131.47],[2011.1,131.9],[2011.4,132.3],[2011.6,132.45],[2011.85,131.9],[2012.25,131.9],[2012.5,133.4],[2012.75,132.7],[2012.95,132.55],[2013.35,134.2],[2013.55,134.6],[2013.75,134.55],[2014.05,134.3],[2014.3,135.8],[2014.45,135.77],[2014.7,135.6],[2014.85,135.2],[2015.1,136.1],[2015.3,135.9],[2015.5,135.96],[2015.8,135.55],[2016.0,136.6],[2016.3,136.25],[2016.5,136.2],[2016.75,136.1],[2016.9,135.4],[2017.15,137.45],[2017.3,137.35],[2017.6,136.45],[2017.85,137.5],[2018.05,137.2],[2018.25,137.1],[2018.45,136.25],[2019.65,136.2],[2019.85,138.5],[2020.05,138.4]];

// ---------- LAYOUT (positions only) ----------
const xDomain=[1979.4,2020.4];
const layouts=[
 {L:41,R:378,T:13.3,B:132.3,yd:[130.93,144.19],yt:yTicksA,fmt:"d",minor:0.5,sim:simA,obs:obsA,st:statsA,sl:45,sr:199,ly:[162,173.3,184.3],ry:[162,173.3,184.3],site:[63,94],tag:[2.5,10],title:[13,87.5]},
 {L:444,R:782,T:14,B:132.3,yd:[272.05,284.21],yt:yTicksB,fmt:"d",minor:0.5,sim:simB,obs:obsB,st:statsB,sl:446.7,sr:594.3,ly:[162.7,174,185],ry:[162.7,174,185],site:[462.7,106.7],tag:[403,7],title:[413,81]},
 {L:43,R:378,T:198.3,B:316,yd:[183.07,190.37],yt:yTicksC,fmt:".1f",minor:0.25,sim:simC,obs:obsC,st:statsC,sl:48.3,sr:195,ly:[343,356.5,369.5],ry:[343,355.5,367.7],site:[63.3,228.3],tag:[2.5,194],title:[12.7,266]},
 {L:444,R:782,T:199,B:316.7,yd:[103.95,116.65],yt:yTicksD,fmt:"d",minor:0.5,sim:simD,obs:obsD,st:statsD,sl:446.7,sr:608.3,ly:[344.3,356.7,368.3],ry:[346.7,357.7,369],site:[461.7,221],tag:[403,192],title:[413,263.5]},
 {L:40,R:378,T:384,B:502.3,yd:[204.99,216.94],yt:yTicksE,fmt:"d",minor:0.5,sim:simE,obs:obsE,st:statsE,sl:43.3,sr:199.3,ly:[531,542.7,554],ry:[531,542.7,554],site:[55,403.3],tag:[2.5,380],title:[12.7,451]},
 {L:444,R:782,T:384,B:500,yd:[212.16,227.84],yt:yTicksF,fmt:"d",minor:1,sim:simF,obs:obsF,st:statsF,sl:448.3,sr:594.3,ly:[531,543.3,554.3],ry:[532.7,543.3,554.3],site:[466.7,469],tag:[403,379],title:[413,449]},
 {L:40,R:378,T:569,B:687.3,yd:[113.89,127.03],yt:yTicksG,fmt:"d",minor:0.5,sim:simG,obs:obsG,st:statsG,sl:45.7,sr:196.7,ly:[716,729,740.3],ry:[718.3,730,741],site:[45.7,587.3],tag:[2.5,566],title:[12.7,638]},
 {L:444,R:782,T:569,B:688.3,yd:[148.47,166.68],yt:yTicksH,fmt:"d",minor:1,sim:simH,obs:obsH,st:statsH,sl:448.3,sr:594.3,ly:[716.7,728.3,739.3],ry:[716.7,728.3,739.3],site:[463.3,663.3],tag:[403,564],title:[413,636]},
 {L:40,R:378,T:755,B:873.3,yd:[158.41,173.35],yt:yTicksI,fmt:"d",minor:0.5,sim:simI,obs:obsI,st:statsI,sl:41.7,sr:196.7,ly:[903.3,915,928.3],ry:[902.7,915,927.3],site:[49.3,782.3],tag:[2.5,750],title:[12.7,821]},
 {L:446,R:781,T:755,B:873.3,yd:[129.51,139.17],yt:yTicksJ,fmt:".1f",minor:0.5,sim:simJ,obs:obsJ,st:statsJ,sl:451.7,sr:606.7,ly:[901.7,915.7,928.3],ry:[901.7,915.7,928.3],site:[460.7,805.7],tag:[403,750],title:[413,819.5]}
];

const svg=d3.select("#c");
svg.append("rect").attr("width",790).attr("height",959).attr("fill","#fff");
const SERIF="'Liberation Serif','Times New Roman',serif", SANS="'Liberation Sans',Arial,sans-serif";

const majorX = tickYears.map((y,i)=> y + monthNames.indexOf(tickMonths[i])/12);
const midX = d3.pairs(majorX).map(([a,b])=>(a+b)/2);
const allX = majorX.concat(midX).sort((a,b)=>a-b);

layouts.forEach((p,i)=>{
  const g=svg.append("g");
  const x=d3.scaleLinear().domain(xDomain).range([p.L,p.R]);
  const y=d3.scaleLinear().domain(p.yd).range([p.B,p.T]);
  const W=p.R-p.L, H=p.B-p.T;
  const cid="clip"+i;
  svg.append("clipPath").attr("id",cid).append("rect").attr("x",p.L).attr("y",p.T).attr("width",W).attr("height",H);

  const step=p.yt[1]-p.yt[0];
  const yMinorAll=d3.range(p.yt[0]-step, p.yt[p.yt.length-1]+step+1e-9, p.minor).filter(v=>v>=p.yd[0]&&v<=p.yd[1]);
  const yGridVals=d3.range(p.yt[0]-step, p.yt[p.yt.length-1]+step+1e-9, step/2).filter(v=>v>=p.yd[0]&&v<=p.yd[1]);
  const gy=g.append("g").attr("transform",`translate(${p.L},0)`)
    .call(d3.axisLeft(y).tickValues(yGridVals).tickSize(-W).tickFormat(""));
  gy.select(".domain").remove();
  gy.selectAll("line").attr("stroke","#e6e6e6").attr("stroke-width",0.8);
  gy.selectAll("text").remove();
  const gx=g.append("g").attr("transform",`translate(0,${p.B})`)
    .call(d3.axisBottom(x).tickValues(allX).tickSize(-H).tickFormat(""));
  gx.select(".domain").remove();
  gx.selectAll("line").attr("stroke","#e6e6e6").attr("stroke-width",0.8);
  gx.selectAll("text").remove();

  g.append("rect").attr("x",p.L).attr("y",p.T).attr("width",W).attr("height",H)
    .attr("fill","none").attr("stroke","#8c8c8c").attr("stroke-width",1);

  const ax=g.append("g").attr("transform",`translate(0,${p.B})`)
    .call(d3.axisBottom(x).tickValues(allX).tickSize(4).tickFormat(""));
  ax.select(".domain").remove();
  ax.selectAll("text").remove();
  ax.selectAll("line").attr("stroke","#555").attr("stroke-width",0.8);
  ax.selectAll(".tick").filter(d=>majorX.includes(d)).each(function(d){
    const k=majorX.indexOf(d);
    const t=d3.select(this).append("text").attr("transform","translate(0,9.7) scale(0.85,1)").attr("text-anchor","middle")
      .attr("font-family",SERIF).attr("font-size",10.3).attr("fill","#222");
    t.append("tspan").attr("x",0).attr("y",0).text(tickMonths[k]);
    t.append("tspan").attr("x",0).attr("y",9.3).text(tickYears[k]);
  });

  const am=g.append("g").attr("transform",`translate(${p.L},0)`)
    .call(d3.axisLeft(y).tickValues(yMinorAll).tickSize(2).tickFormat(""));
  am.select(".domain").remove();
  am.selectAll("text").remove();
  am.selectAll("line").attr("stroke","#666").attr("stroke-width",0.7);
  const ay=g.append("g").attr("transform",`translate(${p.L},0)`)
    .call(d3.axisLeft(y).tickValues(p.yt).tickSize(4).tickFormat(d3.format(p.fmt)));
  ay.select(".domain").remove();
  ay.selectAll("line").attr("stroke","#555").attr("stroke-width",0.8);
  ay.selectAll("text").attr("x",null).attr("dy",null)
    .attr("transform","translate(-5,3.5) scale(0.85,1)")
    .attr("font-family",SERIF).attr("font-size",10.5).attr("fill","#222");

  const plot=g.append("g").attr("clip-path",`url(#${cid})`);
  plot.append("path").datum(p.sim)
    .attr("d",d3.line().x(d=>x(d[0])).y(d=>y(d[1])))
    .attr("fill","none").attr("stroke","#1e1e1e").attr("stroke-width",1).attr("stroke-linejoin","round");
  plot.selectAll("circle").data(p.obs).join("circle")
    .attr("cx",d=>x(d[0])).attr("cy",d=>y(d[1])).attr("r",1.8)
    .attr("fill","none").attr("stroke","#777").attr("stroke-width",0.7);

  g.append("text").attr("transform",`translate(${p.site[0]},${p.site[1]}) scale(0.9,1)`)
    .attr("font-family",SERIF).attr("font-weight","bold").attr("font-size",19).attr("fill","#111")
    .text("Site: "+siteIds[i]);

  g.append("text").attr("transform",`translate(${p.title[0]},${p.title[1]}) rotate(-90) scale(0.86,1)`)
    .attr("text-anchor","middle").attr("dominant-baseline","central")
    .attr("font-family",SERIF).attr("font-size",14).attr("fill","#222")
    .text("Groundwater level (m)");

  g.append("rect").attr("x",p.tag[0]).attr("y",p.tag[1]).attr("width",17).attr("height",9).attr("fill","#2e2e2e");
  g.append("text").attr("x",p.tag[0]+8.5).attr("y",p.tag[1]+7.3).attr("text-anchor","middle")
    .attr("font-family",SERIF).attr("font-size",8.5).attr("fill","#fff").text("("+panelTags[i]+")");

  // stats: one text block per column, lines as tspans
  const colL=g.append("text").attr("font-family",SANS).attr("font-size",11.6).attr("fill","#222");
  const colR=g.append("text").attr("font-family",SANS).attr("font-size",11.6).attr("fill","#222").style("white-space","pre");
  [0,1,2].forEach(k=>{
    colL.append("tspan").attr("x",p.sl).attr("y",p.ly[k]+4.2).text(p.st[k]);
    colR.append("tspan").attr("x",p.sr).attr("y",p.ry[k]+4.2).text(p.st[k+3]);
  });
});

// legend
const lg=svg.append("g");
lg.append("line").attr("x1",45).attr("x2",90).attr("y1",946.5).attr("y2",946.5).attr("stroke","#111").attr("stroke-width",1.2);
lg.append("text").attr("x",102).attr("y",946.5).attr("dominant-baseline","central")
  .attr("font-family",SERIF).attr("font-size",17).attr("fill","#111").text(legendLabels[0]);
[337,368].forEach(cx=>lg.append("circle").attr("cx",cx).attr("cy",946.5).attr("r",3).attr("fill","none").attr("stroke","#333").attr("stroke-width",0.9));
lg.append("text").attr("x",383).attr("y",946.5).attr("dominant-baseline","central")
  .attr("font-family",SERIF).attr("font-size",17).attr("fill","#111").text(legendLabels[1]);
</script></body></html>
